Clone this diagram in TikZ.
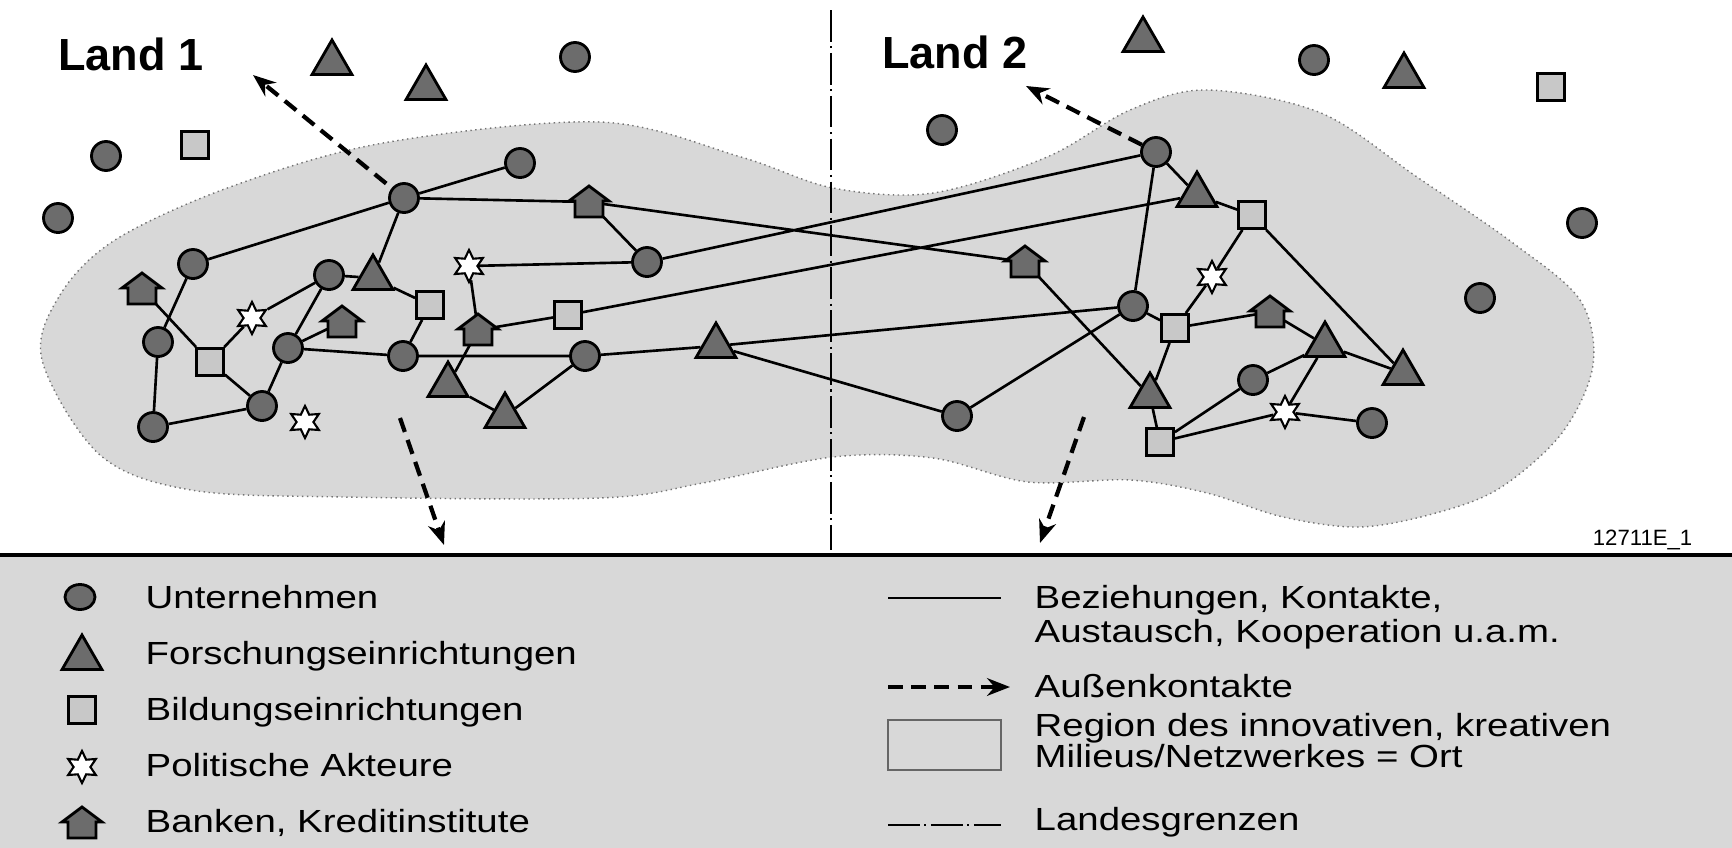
\documentclass[tikz,border=0pt]{standalone}
\usepackage{fontspec}
\setmainfont{Liberation Sans}
\newfontfamily\legendfont[FakeStretch=1.2]{Liberation Sans}
\definecolor{dark}{RGB}{108, 108, 108}
\definecolor{light}{RGB}{200, 200, 200}
\definecolor{region}{RGB}{216, 216, 216}
\usetikzlibrary{shapes.geometric, arrows.meta}

\begin{document}
\begin{tikzpicture}[x=0.01cm, y=-0.01cm,
    unt/.style={circle, draw, line width=0.8pt, fill=dark, minimum size=0.29cm, inner sep=0pt},
    fors/.style={regular polygon, regular polygon sides=3, draw, line width=0.8pt, fill=dark, minimum size=0.46cm, inner sep=0pt},
    bild/.style={rectangle, draw, line width=0.8pt, fill=light, minimum size=0.27cm, inner sep=0pt},
    pol/.style={star, star points=6, star point ratio=1.9, draw, line width=0.6pt, fill=white, minimum size=0.32cm, inner sep=0pt},
    bank/.style={rectangle, inner sep=0pt, minimum size=0.28cm,
      append after command={\pgfextra{\draw[line width=0.8pt, fill=dark]
        (\tikzlastnode.center) ++(-0.14cm,-0.15cm) -- ++(0.28cm,0cm) -- ++(0cm,0.16cm) -- ++(0.06cm,0cm)
        -- ++(-0.20cm,0.15cm) -- ++(-0.20cm,-0.15cm) -- ++(0.06cm,0cm) -- cycle;}}},
    link/.style={line width=0.75pt},
    ext/.style={line width=1.2pt, dash pattern=on 4.2pt off 2.4pt, -{Stealth[length=6.5pt, width=5pt]}},
    grenze/.style={line width=0.75pt, dash pattern=on 9pt off 1.3pt on 0.6pt off 1.3pt},
    land/.style={anchor=base west, font=\bfseries\fontsize{12.8}{15}\selectfont},
    legtext/.style={anchor=base west, inner sep=0pt, font=\legendfont\fontsize{9.1}{10}\selectfont}]
  \useasboundingbox (0,0) rectangle (1732,848);

  % Region
  \path[fill=region, draw=black!55, densely dotted, line width=0.4pt]
    plot[smooth cycle, tension=0.55] coordinates {(42,360) (60,295) (115,240) (230,187) (383,143)
      (600,122) (741,157) (833,188) (933,193) (1047,157) (1130,110) (1207,90) (1321,113) (1417,177)
      (1513,243) (1580,300) (1593,365) (1562,433) (1500,488) (1436,513) (1360,527) (1283,517)
      (1207,493) (1130,480) (1028,482) (933,458) (833,457) (703,483) (600,498) (344,497) (191,490)
      (100,455)};

  % Border
  \draw[grenze] (831,10) -- (831,550);

  % Labels
  \node[land] (land1) at (46,70) {Land 1};
  \node[land] (land2) at (870,68) {Land 2};
  \node[anchor=base east, inner sep=0pt, font=\fontsize{6.3}{7}\selectfont] (code) at (1693,545) {12711E\_1};

  % Actors outside the region
  \node[fors] (f9) at (332,63) {};
  \node[fors] (f10) at (426,88) {};
  \node[unt] (u17) at (575,57) {};
  \node[unt] (u18) at (106,156) {};
  \node[bild] (b7) at (195,145) {};
  \node[unt] (u19) at (58,218) {};
  \node[unt] (u20) at (942,130) {};
  \node[fors] (f11) at (1143,40) {};
  \node[unt] (u21) at (1314,60) {};
  \node[fors] (f12) at (1404,76) {};
  \node[bild] (b8) at (1551,87) {};
  \node[unt] (u22) at (1582,223) {};
  \node[unt] (u23) at (1480,298) {};

  % Actors Land 1
  \node[unt] (u1) at (404,198) {};
  \node[unt] (u2) at (520,163) {};
  \node[unt] (u3) at (193,264) {};
  \node[unt] (u4) at (329,275) {};
  \node[unt] (u5) at (158,342) {};
  \node[unt] (u6) at (288,348) {};
  \node[unt] (u7) at (647,262) {};
  \node[unt] (u8) at (403,356) {};
  \node[unt] (u9) at (585,356) {};
  \node[unt] (u10) at (153,427) {};
  \node[unt] (u11) at (262,406) {};
  \node[fors] (f1) at (373,278) {};
  \node[fors] (f2) at (448,385) {};
  \node[fors] (f3) at (505,416) {};
  \node[fors] (f4) at (716,346) {};
  \node[bild] (b1) at (210,362) {};
  \node[bild] (b2) at (430,305) {};
  \node[bild] (b3) at (568,315) {};
  \node[pol] (p1) at (469,266) {};
  \node[pol] (p2) at (252,318) {};
  \node[pol] (p3) at (305,422) {};
  \node[bank] (k1) at (589,202) {};
  \node[bank] (k2) at (142,289) {};
  \node[bank] (k3) at (342,322) {};
  \node[bank] (k4) at (478,330) {};

  % Actors Land 2
  \node[unt] (u12) at (1156,152) {};
  \node[unt] (u13) at (1133,306) {};
  \node[unt] (u14) at (957,416) {};
  \node[unt] (u15) at (1253,380) {};
  \node[unt] (u16) at (1372,423) {};
  \node[fors] (f5) at (1197,195) {};
  \node[fors] (f6) at (1325,345) {};
  \node[fors] (f7) at (1403,373) {};
  \node[fors] (f8) at (1150,396) {};
  \node[bild] (b4) at (1252,215) {};
  \node[bild] (b5) at (1175,328) {};
  \node[bild] (b6) at (1160,442) {};
  \node[pol] (p4) at (1212,277) {};
  \node[pol] (p5) at (1285,412) {};
  \node[bank] (k5) at (1025,262) {};
  \node[bank] (k6) at (1270,312) {};

  % Links
  \draw[link] (u1) -- (u2) (u1) -- (k1) (u1) -- (u3) (u1) -- (f1) (u4) -- (f1) (f1) -- (b2) (b2) -- (u8);
  \draw[link] (u3) -- (u5) (k2) -- (b1) (u5) -- (u10) (u10) -- (u11) (b1) -- (u11) (b1) -- (p2) (p2) -- (u4);
  \draw[link] (u4) -- (u6) (u6) -- (u11) (u6) -- (k3) (u6) -- (u8) (u8) -- (u9);
  \draw[link] (p1) -- (k4) (p1) -- (u7) (k4) -- (b3) (k4) -- (f2) (f2) -- (f3) (f3) -- (u9) (k1) -- (u7);
  \draw[link] (k1) -- (k5) (u7) -- (u12) (b3) -- (f5) (u9) -- (f4) (f4) -- (u13) (f4) -- (u14) (u14) -- (u13);
  \draw[link] (k5) -- (f8) (u12) -- (u13) (u12) -- (f5) (f5) -- (b4) (u13) -- (b5) (b5) -- (p4) (p4) -- (b4);
  \draw[link] (b4) -- (f7) (b5) -- (k6) (k6) -- (f6) (f6) -- (f7) (b5) -- (f8) (f8) -- (b6);
  \draw[link] (b6) -- (u15) (u15) -- (f6) (b6) -- (p5) (p5) -- (f6) (p5) -- (u16);

  % External contacts
  \coordinate (out1) at (253,75);
  \coordinate (out2) at (1026,86);
  \coordinate (s3) at (400,418);
  \coordinate (out3) at (444,545);
  \coordinate (s4) at (1084,417);
  \coordinate (out4) at (1040,543);
  \draw[ext, shorten <=2pt] (u1) -- (out1);
  \draw[ext] (u12) -- (out2);
  \draw[ext] (s3) -- (out3);
  \draw[ext] (s4) -- (out4);

  % Legend
  \fill[region] (0,557) rectangle (1732,848);
  \draw[line width=0.9pt] (0,555) -- (1732,555);

  \node[unt, ellipse, minimum width=0.30cm, minimum height=0.25cm] (lu) at (80,597) {};
  \node[fors] (lf) at (82,658) {};
  \node[bild] (lb) at (82,710) {};
  \node[pol] (lp) at (82,767) {};
  \node[bank] (lk) at (82,823) {};
  \node[legtext] (tu) at (145,608) {Unternehmen};
  \node[legtext] (tf) at (145,664) {Forschungseinrichtungen};
  \node[legtext] (tb) at (145,720) {Bildungseinrichtungen};
  \node[legtext] (tp) at (145,776) {Politische Akteure};
  \node[legtext] (tk) at (145,832) {Banken, Kreditinstitute};

  \draw[link] (888,598) -- (1001,598);
  \draw[ext] (888,687) -- (1010,687);
  \draw[fill=region, draw=black!60, line width=0.5pt] (888,720) rectangle (1001,770);
  \draw[grenze] (888,825) -- (1001,825);
  \node[legtext] (tl1) at (1034,608) {Beziehungen, Kontakte,};
  \node[legtext] (tl2) at (1034,642) {Austausch, Kooperation u.a.m.};
  \node[legtext] (te) at (1034,697) {Außenkontakte};
  \node[legtext] (tr1) at (1034,736) {Region des innovativen, kreativen};
  \node[legtext] (tr2) at (1034,767) {Milieus/Netzwerkes = Ort};
  \node[legtext] (tg) at (1034,830) {Landesgrenzen};
\end{tikzpicture}
\end{document}
